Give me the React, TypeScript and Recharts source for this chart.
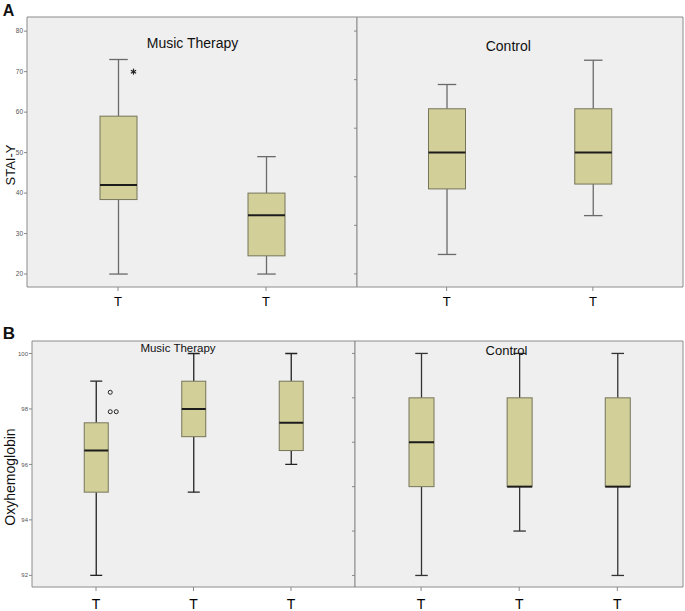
import React from "react";
import { ComposedChart, Bar, XAxis, YAxis, CartesianGrid } from "recharts";

// Panel A - STAI-Y, music therapy group
const staiMusicLabels = ["T", "T"];
const staiMusicMin = [20, 20];
const staiMusicQ1 = [38.4, 24.5];
const staiMusicMedian = [42, 34.5];
const staiMusicQ3 = [59, 40];
const staiMusicMax = [73, 49];
const staiMusicExtreme = [[70], []];
const staiMusicTicks = [20, 30, 40, 50, 60, 70, 80];

// Panel A - STAI-Y, control group (own axis, labels not shown)
const staiControlLabels = ["T", "T"];
const staiControlMin = [24, 32];
const staiControlQ1 = [37.5, 38.5];
const staiControlMedian = [45, 45];
const staiControlQ3 = [54, 54];
const staiControlMax = [59, 64];
const staiControlTicks = [20, 30, 40, 50, 60, 70];

// Panel B - Oxyhemoglobin, music therapy group
const oxyMusicLabels = ["T", "T", "T"];
const oxyMusicMin = [92, 95, 96];
const oxyMusicQ1 = [95, 97, 96.5];
const oxyMusicMedian = [96.5, 98, 97.5];
const oxyMusicQ3 = [97.5, 99, 99];
const oxyMusicMax = [99, 100, 100];
const oxyMusicMild = [[98.6, 97.9, 97.9], [], []];
const oxyMusicTicks = [92, 94, 96, 98, 100];

// Panel B - Oxyhemoglobin, control group (own axis, labels not shown)
const oxyControlLabels = ["T", "T", "T"];
const oxyControlMin = [95, 96, 95];
const oxyControlQ1 = [97, 97, 97];
const oxyControlMedian = [98, 97, 97];
const oxyControlQ3 = [99, 99, 99];
const oxyControlMax = [100, 100, 100];
const oxyControlTicks = [95, 96, 97, 98, 99, 100];

type Row = {
  label: string;
  min: number;
  q1: number;
  median: number;
  q3: number;
  max: number;
  mild: number[];
  extreme: number[];
};

function toRows(
  labels: string[],
  min: number[],
  q1: number[],
  median: number[],
  q3: number[],
  max: number[],
  mild: number[][] = [],
  extreme: number[][] = []
): Row[] {
  return labels.map((label, i) => ({
    label,
    min: min[i],
    q1: q1[i],
    median: median[i],
    q3: q3[i],
    max: max[i],
    mild: mild[i] || [],
    extreme: extreme[i] || [],
  }));
}

const FONT = "'Liberation Sans', Arial, sans-serif";
const BOX_FILL = "#d3cf98";
const BOX_STROKE = "#75755a";
const FRAME = "#8c8c8c";

function makeBoxShape(whisker: string, offset: number) {
  return function BoxShape(props: any) {
    const { x, y, width, height, payload } = props;
    if (x == null || !payload) return null;
    const r = payload as Row;
    const top = Math.min(y, y + height);
    const span = Math.abs(height);
    const py = (v: number) => top + ((r.max - v) / (r.max - r.min)) * span;
    const cx = x + width / 2;
    const cap = width / 4;
    const seen: Record<string, number> = {};
    const px = (v: number) => {
      const k = String(v);
      const n = seen[k] ?? 0;
      seen[k] = n + 1;
      return cx + offset + n * 6;
    };
    return (
      <g>
        <line x1={cx} x2={cx} y1={py(r.max)} y2={py(r.q3)} stroke={whisker} strokeWidth={1.3} />
        <line x1={cx} x2={cx} y1={py(r.q1)} y2={py(r.min)} stroke={whisker} strokeWidth={1.3} />
        <line x1={cx - cap} x2={cx + cap} y1={py(r.max)} y2={py(r.max)} stroke={whisker} strokeWidth={1.3} />
        <line x1={cx - cap} x2={cx + cap} y1={py(r.min)} y2={py(r.min)} stroke={whisker} strokeWidth={1.3} />
        <rect
          x={x}
          y={py(r.q3)}
          width={width}
          height={py(r.q1) - py(r.q3)}
          fill={BOX_FILL}
          stroke={BOX_STROKE}
          strokeWidth={1}
        />
        <line x1={x} x2={x + width} y1={py(r.median)} y2={py(r.median)} stroke="#1c1c1c" strokeWidth={2} />
        {r.mild.map((v, i) => (
          <circle key={"m" + i} cx={px(v)} cy={py(v)} r={2} fill="none" stroke="#222" strokeWidth={1} />
        ))}
        {r.extreme.map((v, i) => {
          const ax = px(v);
          const ay = py(v);
          const s = 3;
          return (
            <g key={"e" + i} stroke="#222" strokeWidth={1.2}>
              <line x1={ax} x2={ax} y1={ay - s} y2={ay + s} />
              <line x1={ax - s * 0.87} x2={ax + s * 0.87} y1={ay - s * 0.5} y2={ay + s * 0.5} />
              <line x1={ax - s * 0.87} x2={ax + s * 0.87} y1={ay + s * 0.5} y2={ay - s * 0.5} />
            </g>
          );
        })}
      </g>
    );
  };
}

const NoLabel = () => <g />;

type PanelProps = {
  left: number;
  top: number;
  width: number;
  height: number;
  marginTop: number;
  yWidth: number;
  xHeight: number;
  rows: Row[];
  domain: [number, number];
  ticks: number[];
  showYLabels: boolean;
  yFont: number;
  barSize: number;
  pad: { left: number; right: number };
  whisker: string;
  xTickMargin: number;
  xFont: number;
  outlierOffset: number;
};

function Panel(p: PanelProps) {
  return (
    <div style={{ position: "absolute", left: p.left, top: p.top }}>
      <ComposedChart
        width={p.width}
        height={p.height}
        data={p.rows}
        margin={{ top: p.marginTop, right: 0, bottom: 0, left: 0 }}
      >
        <CartesianGrid horizontal={false} vertical={false} fill="#efefef" />
        <XAxis
          dataKey="label"
          height={p.xHeight}
          padding={p.pad}
          axisLine={{ stroke: FRAME }}
          tickLine={{ stroke: "#888" }}
          tickSize={4}
          tickMargin={p.xTickMargin}
          tick={{ fontSize: p.xFont, fill: "#000", fontFamily: FONT }}
        />
        <XAxis
          xAxisId="top"
          dataKey="label"
          orientation="top"
          height={1}
          tick={false}
          tickLine={false}
          axisLine={{ stroke: FRAME }}
        />
        <YAxis
          type="number"
          width={p.yWidth}
          domain={p.domain}
          ticks={p.ticks}
          allowDataOverflow
          interval={0}
          axisLine={{ stroke: FRAME }}
          tickLine={{ stroke: "#888" }}
          tickSize={3}
          tickMargin={1}
          tick={p.showYLabels ? { fontSize: p.yFont, fill: "#555", fontFamily: FONT } : NoLabel}
        />
        <YAxis
          yAxisId="right"
          orientation="right"
          type="number"
          width={1}
          domain={[0, 1]}
          tick={false}
          tickLine={false}
          axisLine={{ stroke: FRAME }}
        />
        <Bar
          dataKey={(d: Row) => [d.min, d.max]}
          barSize={p.barSize}
          isAnimationActive={false}
          shape={makeBoxShape(p.whisker, p.outlierOffset)}
        />
      </ComposedChart>
    </div>
  );
}

function Txt(props: { x: number; y: number; size: number; text: string; bold?: boolean; rotate?: boolean }) {
  return (
    <div
      style={{
        position: "absolute",
        left: props.x,
        top: props.y,
        transform: `translate(-50%, -50%)${props.rotate ? " rotate(-90deg)" : ""}`,
        fontFamily: FONT,
        fontSize: props.size,
        fontWeight: props.bold ? 700 : 400,
        lineHeight: 1,
        whiteSpace: "nowrap",
        color: "#111",
      }}
    >
      {props.text}
    </div>
  );
}

export default function App() {
  const aMusic = toRows(staiMusicLabels, staiMusicMin, staiMusicQ1, staiMusicMedian, staiMusicQ3, staiMusicMax, [], staiMusicExtreme);
  const aControl = toRows(staiControlLabels, staiControlMin, staiControlQ1, staiControlMedian, staiControlQ3, staiControlMax);
  const bMusic = toRows(oxyMusicLabels, oxyMusicMin, oxyMusicQ1, oxyMusicMedian, oxyMusicQ3, oxyMusicMax, oxyMusicMild);
  const bControl = toRows(oxyControlLabels, oxyControlMin, oxyControlQ1, oxyControlMedian, oxyControlQ3, oxyControlMax);

  return (
    <div style={{ position: "absolute", left: 0, top: 0, width: 685, height: 611, background: "#fff", overflow: "hidden" }}>
      <Panel
        left={0} top={0} width={358} height={320} marginTop={16} yWidth={27} xHeight={33}
        rows={aMusic} domain={[16.8, 83.5]} ticks={staiMusicTicks} showYLabels yFont={6.5}
        barSize={37} pad={{ left: 17, right: 17 }} whisker="#6a6a6a" xTickMargin={6} xFont={13} outlierOffset={15}
      />
      <Panel
        left={353} top={0} width={331} height={320} marginTop={16} yWidth={4} xHeight={33}
        rows={aControl} domain={[17.3, 72.9]} ticks={staiControlTicks} showYLabels={false} yFont={6.5}
        barSize={37} pad={{ left: 16.5, right: 17 }} whisker="#6a6a6a" xTickMargin={6} xFont={13} outlierOffset={15}
      />
      <Panel
        left={0} top={320} width={356} height={291} marginTop={20} yWidth={32} xHeight={24}
        rows={bMusic} domain={[91.58, 100.45]} ticks={oxyMusicTicks} showYLabels yFont={6}
        barSize={24} pad={{ left: 15.25, right: 15.25 }} whisker="#222" xTickMargin={8.5} xFont={14} outlierOffset={14}
      />
      <Panel
        left={351} top={320} width={333} height={291} marginTop={20} yWidth={4} xHeight={24}
        rows={bControl} domain={[94.74, 100.28]} ticks={oxyControlTicks} showYLabels={false} yFont={6}
        barSize={25} pad={{ left: 17, right: 16.6 }} whisker="#333" xTickMargin={8.5} xFont={14} outlierOffset={14}
      />

      <Txt x={8.5} y={10.5} size={16} text="A" bold />
      <Txt x={9} y={333.3} size={17} text="B" bold />
      <Txt x={192.5} y={43} size={14} text="Music Therapy" />
      <Txt x={508.3} y={46} size={14} text="Control" />
      <Txt x={178} y={349.3} size={11.5} text="Music Therapy" />
      <Txt x={506.5} y={350.3} size={13} text="Control" />
      <Txt x={9.5} y={165} size={13} text="STAI-Y" rotate />
      <Txt x={9.5} y={476.7} size={14} text="Oxyhemoglobin" rotate />
    </div>
  );
}
